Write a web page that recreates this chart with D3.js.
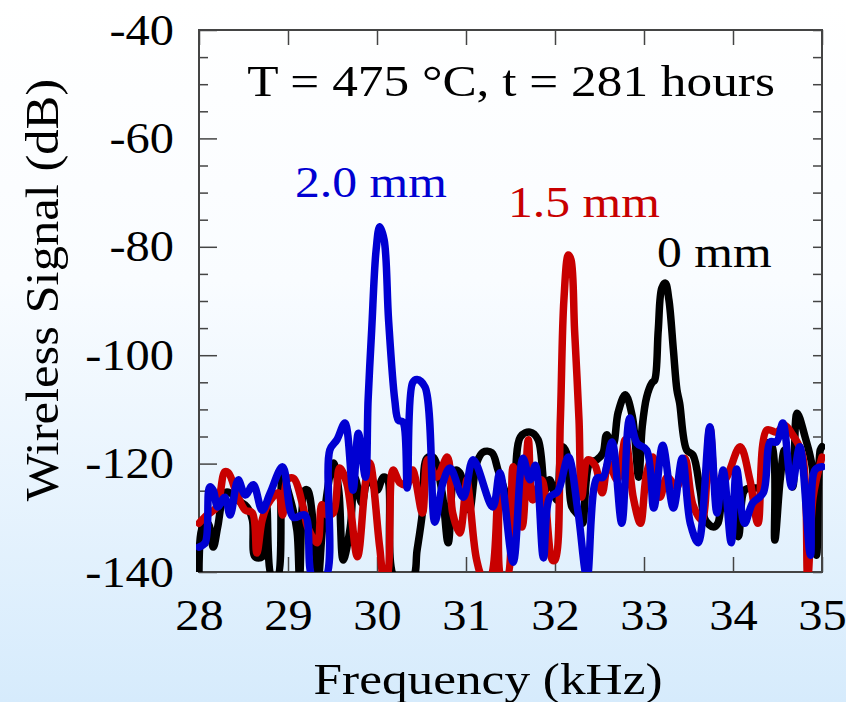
<!DOCTYPE html>
<html><head><meta charset="utf-8">
<script src="https://cdn.jsdelivr.net/npm/d3@7"></script>
<style>html,body{margin:0;padding:0;background:#fff;} svg{display:block;}</style>
</head><body><svg id="c" width="846" height="702"></svg>
<script>
// ---- data (frequency in kHz, signal in dB; values below -140 are off-scale) ----
const freqBlack = [28.00,28.04,28.10,28.16,28.21,28.29,28.35,28.43,28.54,28.60,28.63,28.71,28.76,28.82,28.88,28.94,29.02,29.10,29.13,29.19,29.22,29.28,29.34,29.39,29.51,29.57,29.62,29.70,29.75,29.83,29.90,30.00,30.07,30.12,30.20,30.40,30.45,30.51,30.56,30.63,30.73,30.80,30.88,30.93,30.99,31.04,31.12,31.19,31.29,31.36,31.46,31.53,31.61,31.72,31.81,31.89,31.94,32.02,32.08,32.13,32.19,32.28,32.31,32.39,32.47,32.54,32.58,32.65,32.71,32.79,32.87,32.94,32.98,33.03,33.09,33.12,33.16,33.20,33.24,33.28,33.33,33.37,33.40,33.48,33.55,33.63,33.69,33.78,33.83,33.89,33.97,34.06,34.13,34.22,34.30,34.38,34.44,34.47,34.53,34.58,34.67,34.72,34.81,34.89,34.94,34.98,35.00];
const sigBlack  = [-141,-131.7,-131.0,-135.4,-131.7,-125.4,-125.4,-126.7,-128.0,-130.4,-137.2,-137.2,-128.0,-141,-141,-122.5,-126.2,-132.3,-141,-124.9,-124.9,-130.4,-141,-131.7,-119.9,-124.9,-137.8,-131.7,-122.5,-127.3,-122.7,-124.9,-122.5,-123.0,-141,-141,-136.0,-129.1,-119.0,-118.8,-125.2,-134.6,-121.2,-121.7,-125.4,-128.6,-119.9,-117.9,-118.0,-121.2,-126.2,-129.1,-115.1,-114.2,-115.6,-124.9,-123.0,-126.7,-116.9,-118.0,-128.0,-129.9,-131.0,-119.9,-119.3,-118.0,-114.7,-116.6,-110.5,-107.3,-111.4,-122.5,-113.2,-107.7,-105.1,-104.6,-95.4,-87.6,-86.7,-89.8,-99.0,-106.4,-108.8,-117.5,-118.4,-124.9,-130.4,-131.7,-131.0,-126.7,-126.7,-133.5,-124.9,-124.5,-124.3,-116.2,-116.9,-134.1,-123.0,-117.5,-124.3,-110.7,-115.1,-120.6,-136.9,-117.5,-116.9];

const freqRed = [28.00,28.09,28.20,28.29,28.33,28.43,28.52,28.60,28.65,28.71,28.78,28.89,28.94,28.99,29.06,29.17,29.22,29.33,29.38,29.44,29.51,29.58,29.66,29.78,29.87,29.92,30.03,30.08,30.11,30.18,30.26,30.34,30.40,30.51,30.57,30.67,30.79,30.85,30.93,31.01,31.04,31.12,31.19,31.27,31.36,31.40,31.46,31.53,31.63,31.70,31.75,31.85,31.97,32.00,32.06,32.10,32.15,32.18,32.22,32.27,32.30,32.37,32.45,32.53,32.60,32.70,32.79,32.88,32.96,33.03,33.10,33.18,33.26,33.37,33.46,33.55,33.65,33.74,33.82,33.93,34.08,34.19,34.28,34.38,34.49,34.58,34.67,34.78,34.84,34.90,35.00];
const sigRed  = [-131.0,-129.5,-128.0,-121.5,-121.7,-125.8,-128.6,-129.1,-136.5,-130.4,-127.3,-125.4,-129.5,-123.0,-122.7,-128.0,-131.7,-134.6,-127.6,-129.5,-129.1,-120.8,-123.6,-137.2,-123.6,-119.9,-135.4,-141,-141,-121.2,-123.6,-123.9,-121.2,-129.1,-119.3,-122.5,-118.8,-129.1,-132.8,-123.0,-126.3,-137.8,-141,-141,-126.0,-141,-141,-120.6,-131.7,-115.6,-126.7,-123.0,-137.8,-137.8,-112.0,-89.8,-81.5,-82.4,-95.4,-112.0,-126.2,-119.3,-120.3,-125.4,-119.9,-123.0,-115.6,-126.3,-131.0,-121.7,-118.8,-126.2,-122.5,-124.3,-119.0,-127.6,-130.4,-113.4,-124.9,-122.5,-116.9,-123.0,-131.0,-113.8,-114.2,-112.9,-114.7,-118.4,-141,-126.2,-118.8];

const freqBlue = [28.00,28.07,28.12,28.16,28.21,28.29,28.35,28.44,28.52,28.61,28.71,28.80,28.94,29.06,29.19,29.28,29.42,29.47,29.55,29.64,29.73,29.79,29.87,29.90,29.94,29.99,30.03,30.08,30.13,30.20,30.24,30.29,30.34,30.40,30.45,30.54,30.65,30.74,30.82,30.97,31.08,31.30,31.38,31.53,31.64,31.72,31.78,31.87,31.94,32.03,32.15,32.26,32.36,32.47,32.54,32.64,32.75,32.84,32.92,33.03,33.11,33.21,33.33,33.43,33.52,33.61,33.74,33.82,33.89,33.98,34.04,34.13,34.22,34.34,34.42,34.49,34.56,34.66,34.75,34.87,34.92,35.00];
const sigBlue  = [-135.4,-134.6,-124.3,-124.9,-128.0,-126.2,-129.5,-123.0,-125.8,-123.9,-128.6,-125.4,-120.6,-129.9,-129.5,-141,-141,-117.5,-115.6,-112.5,-124.9,-114.4,-122.5,-108.3,-95.4,-80.6,-76.3,-78.7,-93.5,-108.3,-112.0,-112.3,-124.5,-105.1,-104.5,-105.9,-130.8,-123.6,-120.8,-126.2,-119.3,-128.0,-121.7,-138.2,-119.0,-123.0,-120.3,-137.4,-126.2,-125.2,-118.8,-129.1,-141,-122.7,-122.5,-116.0,-131.0,-111.6,-116.2,-117.5,-128.2,-116.6,-128.2,-119.0,-131.0,-134.6,-113.2,-129.1,-121.2,-134.6,-121.0,-131.0,-127.3,-125.4,-116.0,-116.0,-112.5,-124.3,-116.9,-136.9,-121.2,-120.6];

const seriesNames  = ["0 mm", "1.5 mm", "2.0 mm"];
const seriesColors = ["#000000", "#c80000", "#0000d2"];
const xTickValues = [28, 29, 30, 31, 32, 33, 34, 35];
const yTickValues = [-40, -60, -80, -100, -120, -140];
const titleText = "T = 475 °C, t = 281 hours";

// ---- drawing ----
const FONT = "Liberation Serif";
const svg = d3.select("#c");
const W = 846, H = 702;
const L = 199, R = 822, T = 30, B = 572;
const x = d3.scaleLinear().domain([28, 35]).range([L, R]);
const y = d3.scaleLinear().domain([-40, -140]).range([T, B]);

const defs = svg.append("defs");
const g = defs.append("linearGradient").attr("id", "bg").attr("x1", 0).attr("y1", 0).attr("x2", 0).attr("y2", 1);
g.append("stop").attr("offset", "0").attr("stop-color", "#ffffff");
g.append("stop").attr("offset", "0.4").attr("stop-color", "#f9fcff");
g.append("stop").attr("offset", "1").attr("stop-color", "#d6ebfc");
defs.append("clipPath").attr("id", "clip").append("rect")
  .attr("x", L - 3).attr("y", T).attr("width", R - L + 6).attr("height", B - T);

svg.append("rect").attr("width", W).attr("height", H).attr("fill", "url(#bg)");

const sx = 1.13;
const axisColor = "#444";

// left axis
const minorY = d3.range(-140, -39, 5);
const gl = svg.append("g").attr("transform", `translate(${L},0)`)
  .call(d3.axisLeft(y).tickValues(minorY).tickSizeInner(-9).tickSizeOuter(0)
    .tickFormat(d => yTickValues.includes(d) ? String(d) : ""));
gl.selectAll(".tick line").attr("x2", d => yTickValues.includes(d) ? 18 : 9);
gl.selectAll("text").attr("x", -25 / 1.1).attr("dy", "0.32em").attr("transform", "scale(1.1,1)")
  .attr("font-family", FONT).attr("font-size", 44).attr("fill", "#000");

// right axis
svg.append("g").attr("transform", `translate(${R},0)`)
  .call(d3.axisRight(y).tickValues(minorY).tickSizeInner(-9).tickSizeOuter(0).tickFormat(""));

// bottom axis
const gb = svg.append("g").attr("transform", `translate(0,${B})`)
  .call(d3.axisBottom(x).tickValues(xTickValues).tickSizeInner(-15).tickSizeOuter(0).tickFormat(d => String(d)));
gb.selectAll("text").attr("y", 58).attr("dy", 0).attr("transform", "scale(1.1,1)")
  .attr("font-family", FONT).attr("font-size", 44).attr("fill", "#000");

// top axis
svg.append("g").attr("transform", `translate(0,${T})`)
  .call(d3.axisTop(x).tickValues(xTickValues).tickSizeInner(-15).tickSizeOuter(0).tickFormat(""));

svg.selectAll(".domain").remove();
svg.selectAll("g").attr("font-family", FONT);
svg.selectAll(".tick line").attr("stroke", axisColor).attr("stroke-width", 1.5);

// frame
svg.append("rect").attr("x", L).attr("y", T).attr("width", R - L).attr("height", B - T)
  .attr("fill", "none").attr("stroke", axisColor).attr("stroke-width", 2);

// lines
const line = d3.line().x(d => x(d[0])).y(d => y(d[1])).curve(d3.curveCatmullRom.alpha(0.5));
const series = [
  d3.zip(freqBlack, sigBlack),
  d3.zip(freqRed, sigRed),
  d3.zip(freqBlue, sigBlue)
];
svg.append("g").attr("clip-path", "url(#clip)")
  .selectAll("path").data(series).join("path")
  .attr("d", line)
  .attr("fill", "none")
  .attr("stroke", (d, i) => seriesColors[i])
  .attr("stroke-width", 7.5)
  .attr("stroke-linejoin", "round")
  .attr("stroke-linecap", "round");

// text helper
function stretchedText(px, py, str, size, color, anchor, k) {
  svg.append("text")
    .attr("transform", `translate(${px},${py}) scale(${k || sx},1)`)
    .attr("text-anchor", anchor || "start")
    .attr("font-family", FONT)
    .attr("font-size", size)
    .attr("fill", color)
    .text(str);
}
stretchedText(511, 96, titleText, 45, "#000", "middle", 1.14);

// series labels
stretchedText(295, 197, seriesNames[2], 44, seriesColors[2]);
stretchedText(508, 217, seriesNames[1], 44, seriesColors[1]);
stretchedText(657, 267, seriesNames[0], 44, "#000");

// axis titles
stretchedText(488, 694, "Frequency (kHz)", 45, "#000", "middle", 1.14);
svg.append("text")
  .attr("transform", `translate(58,290) rotate(-90) scale(1.1,1)`)
  .attr("text-anchor", "middle")
  .attr("font-family", FONT)
  .attr("font-size", 46)
  .attr("fill", "#000")
  .text("Wireless Signal (dB)");
</script>
</body></html>
